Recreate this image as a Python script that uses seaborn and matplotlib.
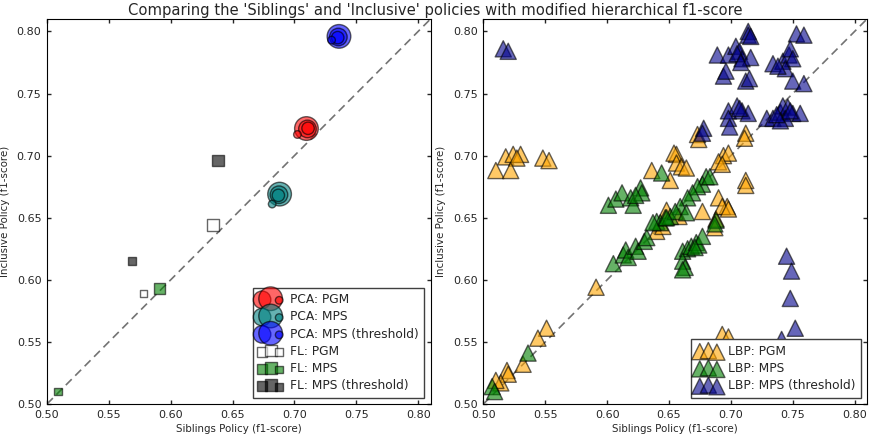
import numpy as np
import pandas as pd
import matplotlib
matplotlib.use("Agg")
import matplotlib.pyplot as plt
import seaborn as sns

# ---------------- data: (siblings f1, inclusive f1) ----------------
# Left panel: PCA features (circles) and FL features (squares)
pca_pgm_x = [0.7097, 0.7105, 0.7110, 0.7024]
pca_pgm_y = [0.7218, 0.7215, 0.7220, 0.7170]
pca_mps_x = [0.6880, 0.6875, 0.6870, 0.6820]
pca_mps_y = [0.6690, 0.6685, 0.6680, 0.6610]
pca_thr_x = [0.7360, 0.7355, 0.7350, 0.7300]
pca_thr_y = [0.7960, 0.7955, 0.7950, 0.7930]

fl_pgm_x = [0.5780, 0.6340]
fl_pgm_y = [0.5890, 0.6440]
fl_mps_x = [0.5090, 0.5910]
fl_mps_y = [0.5100, 0.5930]
fl_thr_x = [0.5685, 0.6380]
fl_thr_y = [0.6150, 0.6960]

# Right panel: LBP features (triangles)
lbp_pgm_x = [0.518, 0.524, 0.530, 0.527, 0.510, 0.522, 0.548, 0.553,
             0.636, 0.651, 0.656, 0.654, 0.656, 0.660, 0.664,
             0.673, 0.674, 0.694, 0.698, 0.690, 0.693, 0.712, 0.711,
             0.712, 0.712, 0.690, 0.697, 0.677, 0.688, 0.687, 0.648,
             0.640, 0.645, 0.658, 0.693, 0.698,
             0.591, 0.551, 0.544, 0.532, 0.519, 0.520, 0.514, 0.510,
             0.693, 0.698]
lbp_pgm_y = [0.699, 0.701, 0.701, 0.698, 0.688, 0.688, 0.698, 0.696,
             0.688, 0.680, 0.701, 0.702, 0.694, 0.691, 0.690,
             0.717, 0.713, 0.700, 0.702, 0.695, 0.693, 0.718, 0.714,
             0.680, 0.676, 0.666, 0.659, 0.655, 0.649, 0.642, 0.656,
             0.639, 0.643, 0.651, 0.659, 0.657,
             0.594, 0.561, 0.553, 0.532, 0.527, 0.524, 0.517, 0.519,
             0.556, 0.554]

lbp_mps_x = [0.601, 0.607, 0.612, 0.619, 0.621, 0.627, 0.628, 0.623,
             0.605, 0.613, 0.615, 0.617, 0.623, 0.625, 0.630, 0.632,
             0.640, 0.643, 0.647, 0.651, 0.644,
             0.680, 0.677, 0.683, 0.673, 0.669, 0.665, 0.659, 0.655,
             0.648, 0.637, 0.664,
             0.688, 0.687, 0.661, 0.665, 0.668, 0.672, 0.674, 0.677,
             0.671, 0.661, 0.663, 0.661,
             0.536, 0.507, 0.509]
lbp_mps_y = [0.660, 0.665, 0.670, 0.666, 0.660, 0.674, 0.670, 0.668,
             0.613, 0.620, 0.624, 0.618, 0.627, 0.623, 0.631, 0.634,
             0.647, 0.646, 0.650, 0.651, 0.686,
             0.683, 0.677, 0.683, 0.675, 0.670, 0.666, 0.659, 0.655,
             0.650, 0.646, 0.654,
             0.648, 0.645, 0.623, 0.625, 0.627, 0.630, 0.628, 0.635,
             0.626, 0.615, 0.610, 0.608,
             0.541, 0.514, 0.510]

lbp_thr_x = [0.516, 0.520,
             0.714, 0.714, 0.716,
             0.753, 0.759,
             0.689, 0.698, 0.704, 0.707, 0.709, 0.716, 0.705, 0.708,
             0.694, 0.696,
             0.712, 0.715,
             0.734, 0.742, 0.747, 0.748, 0.750, 0.744, 0.738,
             0.750, 0.759,
             0.698, 0.705, 0.709, 0.714, 0.698, 0.699, 0.707,
             0.678, 0.677,
             0.729, 0.734, 0.740, 0.742, 0.746, 0.750, 0.756, 0.744,
             0.740, 0.737, 0.748,
             0.745, 0.749, 0.748, 0.752, 0.741,
             0.680, 0.686, 0.692]
lbp_thr_y = [0.786, 0.784,
             0.800, 0.797, 0.796,
             0.798, 0.797,
             0.781, 0.781, 0.788, 0.784, 0.778, 0.779, 0.782, 0.775,
             0.764, 0.768,
             0.760, 0.762,
             0.774, 0.776, 0.781, 0.786, 0.778, 0.770, 0.772,
             0.760, 0.758,
             0.736, 0.740, 0.736, 0.734, 0.730, 0.723, 0.738,
             0.722, 0.718,
             0.730, 0.730, 0.735, 0.740, 0.739, 0.734, 0.734, 0.730,
             0.728, 0.733, 0.736,
             0.619, 0.607, 0.585, 0.561, 0.552,
             0.512, 0.514, 0.511]

# ---------------- styling ----------------
sns.set_style("white", rc={
    "xtick.direction": "in", "ytick.direction": "in",
    "xtick.top": True, "ytick.right": True,
    "xtick.bottom": True, "ytick.left": True,
    "axes.edgecolor": "black", "axes.linewidth": 1.0,
})
plt.rcParams["font.family"] = ["DejaVu Sans"]
plt.rcParams.update({
    "xtick.major.size": 3, "ytick.major.size": 3,
    "xtick.major.width": 1, "ytick.major.width": 1,
    "xtick.labelsize": 8, "ytick.labelsize": 8,
    "xtick.major.pad": 4, "ytick.major.pad": 4,
})

PCA_SIZES = [290, 160, 80, 30]
FL_SIZES = [30, 72]
LBP_SIZE = 135
ALPHA = 0.6

fig, (ax1, ax2) = plt.subplots(1, 2, figsize=(8.71, 4.34), dpi=100)
fig.subplots_adjust(left=47 / 871, right=867 / 871, top=1 - 19 / 434,
                    bottom=1 - 404 / 434, wspace=53 / 384)


def scatter(ax, xs, ys, color, marker, sizes, label):
    df = pd.DataFrame({"x": xs, "y": ys})
    sns.scatterplot(data=df, x="x", y="y", ax=ax, color=color, marker=marker,
                    s=sizes, alpha=ALPHA, edgecolor="black", linewidth=1.0,
                    label=label, legend=False)


# left panel
ax1.plot([0.5, 0.81], [0.5, 0.81], color="0.45", lw=1.2, dashes=(5, 3), zorder=1)
scatter(ax1, pca_pgm_x, pca_pgm_y, "#ff0000", "o", PCA_SIZES, "PCA: PGM")
scatter(ax1, pca_mps_x, pca_mps_y, "#008080", "o", PCA_SIZES, "PCA: MPS")
scatter(ax1, pca_thr_x, pca_thr_y, "#0000ff", "o", PCA_SIZES, "PCA: MPS (threshold)")
scatter(ax1, fl_pgm_x, fl_pgm_y, "white", "s", FL_SIZES, "FL: PGM")
scatter(ax1, fl_mps_x, fl_mps_y, "#008000", "s", FL_SIZES, "FL: MPS")
scatter(ax1, fl_thr_x, fl_thr_y, "black", "s", FL_SIZES, "FL: MPS (threshold)")

# right panel
ax2.plot([0.5, 0.81], [0.5, 0.81], color="0.45", lw=1.2, dashes=(5, 3), zorder=1)
scatter(ax2, lbp_pgm_x, lbp_pgm_y, "#ffa500", "^", [LBP_SIZE] * len(lbp_pgm_x), "LBP: PGM")
scatter(ax2, lbp_mps_x, lbp_mps_y, "#008000", "^", [LBP_SIZE] * len(lbp_mps_x), "LBP: MPS")
scatter(ax2, lbp_thr_x, lbp_thr_y, "#00008b", "^", [LBP_SIZE] * len(lbp_thr_x), "LBP: MPS (threshold)")

ticks = [0.50, 0.55, 0.60, 0.65, 0.70, 0.75, 0.80]
for ax in (ax1, ax2):
    ax.set_xlim(0.5, 0.81)
    ax.set_ylim(0.5, 0.81)
    ax.set_xticks(ticks)
    ax.set_yticks(ticks)
    ax.set_xticklabels([f"{t:.2f}" for t in ticks])
    ax.set_yticklabels([f"{t:.2f}" for t in ticks])
    ax.set_xlabel("Siblings Policy (f1-score)", fontsize=7.4, labelpad=3)
    ax.set_ylabel("Inclusive Policy (f1-score)", fontsize=7.4, labelpad=5)
    for sp in ax.spines.values():
        sp.set_visible(True)
        sp.set_color("black")
    leg = ax.legend(loc="lower right", scatterpoints=3, fontsize=8.8,
                    fancybox=False, framealpha=1.0, edgecolor="0.25",
                    borderpad=0.45, labelspacing=0.35, handletextpad=0.6,
                    handlelength=2.0, borderaxespad=0.5)
    leg.get_frame().set_linewidth(1.0)

fig.suptitle("Comparing the 'Siblings' and 'Inclusive' policies with modified hierarchical f1-score",
             fontsize=10.6, y=1 - 10 / 434, va="center")

fig.savefig("out.png", dpi=100)
